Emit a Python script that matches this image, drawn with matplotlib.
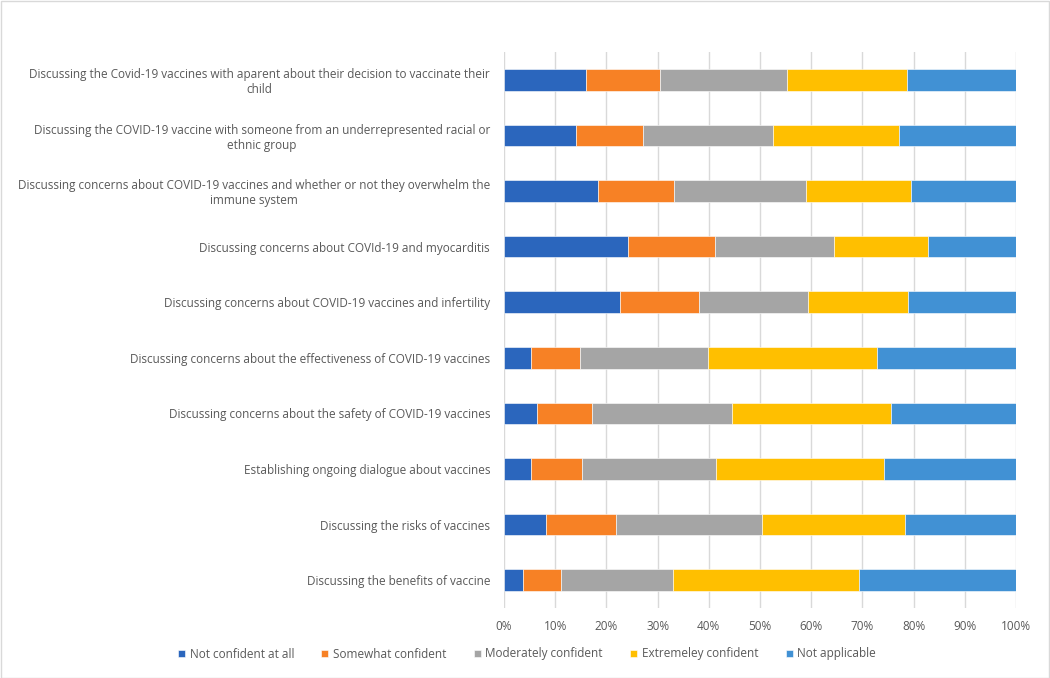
import matplotlib
matplotlib.use("Agg")
import matplotlib.pyplot as plt
import numpy as np
from matplotlib.patches import Rectangle

categories = [
    "Discussing the Covid-19 vaccines with aparent about their decision to vaccinate their\nchild",
    "Discussing the COVID-19 vaccine with someone from an underrepresented racial or\nethnic group",
    "Discussing concerns about COVID-19 vaccines and whether or not they overwhelm the\nimmune system",
    "Discussing concerns about COVId-19 and myocarditis",
    "Discussing concerns about COVID-19 vaccines and infertility",
    "Discussing concerns about the effectiveness of COVID-19 vaccines",
    "Discussing concerns about the safety of COVID-19 vaccines",
    "Establishing ongoing dialogue about vaccines",
    "Discussing the risks of vaccines",
    "Discussing the benefits of vaccine",
]
series_names = ["Not confident at all", "Somewhat confident", "Moderately confident",
                "Extremeley confident", "Not applicable"]
not_confident = [16.1, 14.1, 18.3, 24.3, 22.6, 5.3, 6.4, 5.3, 8.2, 3.8]
somewhat = [14.3, 13.1, 15.0, 17.0, 15.4, 9.6, 10.8, 10.0, 13.6, 7.3]
moderately = [24.9, 25.4, 25.6, 23.2, 21.3, 25.0, 27.4, 26.2, 28.6, 21.9]
extremely = [23.5, 24.6, 20.5, 18.3, 19.7, 33.0, 30.9, 32.8, 27.9, 36.4]
not_applicable = [21.2, 22.8, 20.6, 17.2, 21.0, 27.1, 24.5, 25.7, 21.7, 30.6]
colors = ["#2B66BD", "#F78125", "#A5A5A5", "#FFBF00", "#4191D4"]
xticks = [0, 10, 20, 30, 40, 50, 60, 70, 80, 90, 100]

plt.rcParams['font.family'] = ['Open Sans', 'DejaVu Sans']
fig = plt.figure(figsize=(10.5, 6.78), dpi=100)
W, H = 1050, 678
ax = fig.add_axes([504 / W, 1 - 608 / H, (1016 - 504) / W, (608 - 52) / H])

data = [not_confident, somewhat, moderately, extremely, not_applicable]
y = np.arange(len(categories))
left = np.zeros(len(categories))
for vals, name, c in zip(data, series_names, colors):
    v = np.array(vals)
    ax.barh(y, v, left=left, height=0.39, color=c, label=name,
            edgecolor="white", linewidth=0.4, zorder=3)
    left += v

ax.set_ylim(len(categories) - 0.5, -0.5)
ax.set_xlim(0, 100)
ax.set_xticks(xticks)
ax.set_xticklabels([f"{t}%" for t in xticks])
ax.set_yticks(y)
ax.set_yticklabels(categories, multialignment="center")
ax.tick_params(axis="both", length=0, colors="#595959", labelsize=8.5)
ax.tick_params(axis="y", pad=10)
ax.tick_params(axis="x", pad=9)
ax.grid(axis="x", color="#D9D9D9", linewidth=1, zorder=0)
for s in ax.spines.values():
    s.set_visible(False)

handles, labels = ax.get_legend_handles_labels()
leg = fig.legend(handles, labels, loc="center", bbox_to_anchor=(527 / W, 1 - 654 / H),
                 ncol=5, frameon=False, fontsize=8.5, handlelength=0.6, handleheight=0.6,
                 handletextpad=0.4, columnspacing=2.3)
for t in leg.get_texts():
    t.set_color("#595959")

fig.patches.append(Rectangle((0.5 / W, 0.5 / H), 1 - 1.5 / W, 1 - 1.5 / H,
                             transform=fig.transFigure, fill=False,
                             edgecolor="#D9D9D9", linewidth=1))
fig.savefig("out.png", dpi=100)
